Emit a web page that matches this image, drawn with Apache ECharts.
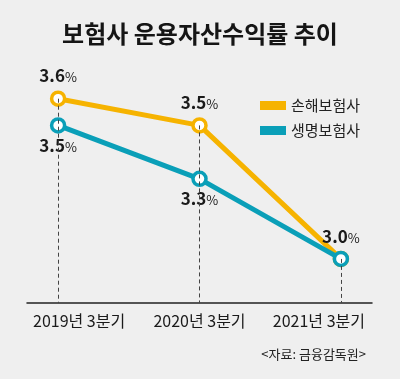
<!DOCTYPE html>
<html><head><meta charset="utf-8">
<script src="https://cdn.jsdelivr.net/npm/echarts@6/dist/echarts.min.js"></script>
<style>html,body{margin:0;padding:0;background:#efefef}#c{width:400px;height:379px}</style>
</head><body><div id="c"></div>
<script>
const categories = ['2019년 3분기', '2020년 3분기', '2021년 3분기'];
const seriesNames = ['손해보험사', '생명보험사'];
const nonLife = [3.6, 3.5, 3.0];
const life = [3.5, 3.3, 3.0];
const nonLifeLabelPos = ['top', 'top', 'top'];
const lifeLabelPos = ['bottom', 'bottom', null];
const yMin = 2.835, yMax = 3.7;
const colors = ['#f6b300', '#0a9fb8'];
const FONT = '"Noto Sans CJK KR", "Noto Sans", sans-serif';

const chart = echarts.init(document.getElementById('c'), null, {renderer: 'canvas'});

function pts(vals, pos, dist) {
  return vals.map((v, i) => ({
    value: [i, v],
    label: pos[i] ? {show: true, position: pos[i], distance: dist} : {show: false}
  }));
}
const rich = {
  n: {fontFamily: FONT, fontSize: 17, fontWeight: 'bold', color: '#1a1a1a'},
  p: {fontFamily: FONT, fontSize: 13, color: '#1a1a1a', padding: [3, 0, 0, 0]}
};
const labelBase = {
  formatter: p => '{n|' + p.value[1].toFixed(1) + '}{p|%}',
  rich: rich
};
const guides = categories.map((c, i) => [
  {coord: [i, Math.max(nonLife[i], life[i])]},
  {coord: [i, yMin]}
]);
const xl = {fontFamily: FONT, fontSize: 16, color: '#1a1a1a'};

chart.setOption({
  backgroundColor: '#efefef',
  animation: false,
  title: [{
    text: '보험사 운용자산수익률 추이', left: 'center', top: 17,
    textStyle: {fontFamily: FONT, fontSize: 24, fontWeight: 'bold', color: '#151515'}
  }, {
    text: '<자료: 금융감독원>', right: 29, top: 343,
    textStyle: {fontFamily: FONT, fontSize: 13, fontWeight: 'normal', color: '#222'}
  }],
  legend: {
    orient: 'vertical', left: 255, top: 91, itemWidth: 26, itemHeight: 9, itemGap: 6,
    icon: 'rect',
    data: seriesNames.map((n, i) => ({name: n, itemStyle: {color: colors[i], borderWidth: 0}})),
    textStyle: {fontFamily: FONT, fontSize: 15, color: '#222', lineHeight: 19}
  },
  grid: {left: 27, right: 28, top: 72, bottom: 76},
  xAxis: {
    type: 'value', min: -0.22, max: 2.22,
    splitLine: {show: false},
    axisLine: {show: true, onZero: false, lineStyle: {color: '#222', width: 1.5}},
    axisTick: {show: false},
    axisLabel: {
      customValues: [0, 1, 2], margin: 10,
      formatter: v => {
        const i = Math.round(v);
        const k = i === 0 ? 'l' : (i === categories.length - 1 ? 'r' : 'm');
        return '{' + k + '|' + categories[i] + '}';
      },
      rich: {
        l: Object.assign({padding: [0, 0, 0, 42]}, xl),
        m: xl,
        r: Object.assign({padding: [0, 44, 0, 0]}, xl)
      }
    }
  },
  yAxis: {type: 'value', min: yMin, max: yMax, show: false, splitLine: {show: false}},
  series: [{
    type: 'line', data: [], z: 1, silent: true,
    markLine: {
      symbol: 'none', silent: true, label: {show: false},
      lineStyle: {type: [4, 3], color: '#444', width: 1},
      data: guides
    }
  }, {
    name: seriesNames[0], type: 'line', z: 3,
    data: pts(nonLife, nonLifeLabelPos, 6),
    symbol: 'circle', symbolSize: 13,
    lineStyle: {color: colors[0], width: 5},
    itemStyle: {color: '#fff', borderColor: colors[0], borderWidth: 3.5},
    label: labelBase
  }, {
    name: seriesNames[1], type: 'line', z: 4,
    data: pts(life, lifeLabelPos, 3),
    symbol: 'circle', symbolSize: 13,
    lineStyle: {color: colors[1], width: 5},
    itemStyle: {color: '#fff', borderColor: colors[1], borderWidth: 3.5},
    label: labelBase
  }]
});
</script></body></html>
